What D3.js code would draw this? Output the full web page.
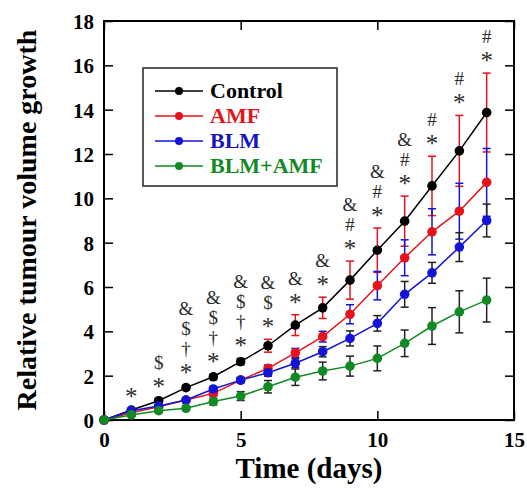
<!DOCTYPE html>
<html>
<head>
<meta charset="utf-8">
<script src="https://cdn.jsdelivr.net/npm/d3@7.9.0/dist/d3.min.js"></script>
<style>
  html, body { margin: 0; padding: 0; background: #fff; }
  svg { display: block; font-family: "Liberation Serif", "Times New Roman", serif; }
  .sym { opacity: 0.99; }
</style>
</head>
<body>
<svg id="chart" width="527" height="493"></svg>
<script>
const days = d3.range(0, 15);
const seriesNames = ['Control', 'AMF', 'BLM', 'BLM+AMF'];
const control = [0, 0.45, 0.87, 1.46, 1.95, 2.63, 3.35, 4.28, 5.06, 6.31, 7.66, 8.97, 10.56, 12.14, 13.87];
const controlErr = [0, 0.05, 0.08, 0.1, 0.12, 0.15, 0.29, 0.47, 0.48, 0.86, 1.0, 1.13, 1.34, 1.6, 1.78];
const amf = [0, 0.33, 0.6, 0.9, 1.2, 1.8, 2.33, 3.03, 3.76, 4.77, 6.06, 7.32, 8.49, 9.42, 10.72];
const amfErr = [0, 0.05, 0.08, 0.1, 0.12, 0.12, 0.15, 0.2, 0.24, 0.43, 0.64, 0.81, 1.04, 1.26, 1.53];
const blm = [0, 0.42, 0.63, 0.9, 1.4, 1.8, 2.13, 2.56, 3.08, 3.68, 4.36, 5.67, 6.64, 7.8, 9.0];
const blmErr = [0, 0.05, 0.05, 0.08, 0.1, 0.1, 0.15, 0.2, 0.23, 0.34, 0.35, 0.58, 0.47, 0.65, 0.74];
const combo = [0, 0.23, 0.42, 0.53, 0.83, 1.08, 1.5, 1.93, 2.21, 2.43, 2.78, 3.46, 4.24, 4.88, 5.41];
const comboErr = [0, 0.05, 0.08, 0.1, 0.15, 0.2, 0.28, 0.37, 0.4, 0.45, 0.56, 0.6, 0.83, 0.95, 0.99];
// significance marks above the Control points, listed bottom to top
const sigMarks = [[], ['*'], ['*', '$'], ['*', '†', '$', '&'], ['*', '†', '$', '&'], ['*', '†', '$', '&'],
  ['*', '$', '&'], ['*', '&'], ['*', '&'], ['*', '#', '&'], ['*', '#', '&'], ['*', '#', '&'],
  ['*', '#'], ['*', '#'], ['*', '#']];
const xTicks = [0, 5, 10, 15];
const yTicks = [0, 2, 4, 6, 8, 10, 12, 14, 16, 18];

const colors = ['#000000', '#e5131b', '#1414d8', '#128a24'];
const textColors = ['#000000', '#e5131b', '#1414c0', '#128a24'];
const barColors = ['#e5131b', '#1414d8', '#222222', '#222222'];

const series = [control, amf, blm, combo].map((vals, i) => ({
  name: seriesNames[i],
  color: colors[i],
  bar: barColors[i],
  points: days.map((d, j) => ({ day: d, v: vals[j], e: [controlErr, amfErr, blmErr, comboErr][i][j] }))
}));

const svg = d3.select('#chart');
const L = 104, R = 514, T = 21, B = 420;
const x = d3.scaleLinear().domain([0, 15]).range([L, R]);
const y = d3.scaleLinear().domain([0, 18]).range([B, T]);

// axes, ticks inward
const tk = 9;
const gx = svg.append('g').attr('transform', `translate(0,${B})`)
  .call(d3.axisBottom(x).tickValues(xTicks).tickSizeInner(-tk).tickSizeOuter(0).tickPadding(12));
const gy = svg.append('g').attr('transform', `translate(${L},0)`)
  .call(d3.axisLeft(y).tickValues(yTicks).tickSizeInner(-tk).tickSizeOuter(0).tickPadding(10));
svg.append('g').attr('transform', `translate(0,${T})`)
  .call(d3.axisTop(x).tickValues(xTicks).tickSizeInner(-tk).tickSizeOuter(0).tickFormat(''));
svg.append('g').attr('transform', `translate(${R},0)`)
  .call(d3.axisRight(y).tickValues(yTicks).tickSizeInner(-tk).tickSizeOuter(0).tickFormat(''));
svg.selectAll('.domain').remove();
svg.selectAll('.tick line').attr('stroke', '#000').attr('stroke-width', 1.5);
svg.selectAll('.tick text').attr('font-family', '"Liberation Serif", serif')
  .attr('font-size', 21).attr('font-weight', 'bold').attr('fill', '#000');
gx.selectAll('.tick text').attr('dy', '0.71em');
gy.selectAll('.tick text').attr('dy', '0.35em');

svg.append('rect').attr('x', L).attr('y', T).attr('width', R - L).attr('height', B - T)
  .attr('fill', 'none').attr('stroke', '#000').attr('stroke-width', 2);

// axis titles
svg.append('text').attr('x', (L + R) / 2).attr('y', 478).attr('text-anchor', 'middle')
  .attr('font-size', 29).attr('font-weight', 'bold').text('Time (days)');
svg.append('text').attr('transform', 'translate(36,220) rotate(-90)').attr('text-anchor', 'middle')
  .attr('font-size', 28).attr('font-weight', 'bold').text('Relative tumour volume growth');

// series
const line = d3.line().x(d => x(d.day)).y(d => y(d.v));
const cap = 4;
series.forEach(s => {
  const g = svg.append('g');
  const eb = g.selectAll('.eb').data(s.points.filter(p => p.e > 0)).join('g')
    .attr('stroke', s.bar).attr('stroke-width', 1.5);
  eb.append('line').attr('x1', d => x(d.day)).attr('x2', d => x(d.day))
    .attr('y1', d => y(d.v - d.e)).attr('y2', d => y(d.v + d.e));
  eb.append('line').attr('x1', d => x(d.day) - cap).attr('x2', d => x(d.day) + cap)
    .attr('y1', d => y(d.v + d.e)).attr('y2', d => y(d.v + d.e));
  eb.append('line').attr('x1', d => x(d.day) - cap).attr('x2', d => x(d.day) + cap)
    .attr('y1', d => y(d.v - d.e)).attr('y2', d => y(d.v - d.e));
  g.append('path').datum(s.points).attr('d', line).attr('fill', 'none')
    .attr('stroke', s.color).attr('stroke-width', 1.5);
  g.selectAll('circle').data(s.points).join('circle')
    .attr('cx', d => x(d.day)).attr('cy', d => y(d.v)).attr('r', 4.8).attr('fill', s.color);
});

// significance symbols
const ctrl = series[0].points;
const symG = svg.append('g').attr('class', 'sym').attr('text-anchor', 'middle');
sigMarks.forEach((marks, i) => {
  const top = y(ctrl[i].v + ctrl[i].e);
  marks.forEach((m, k) => {
    const cy = top - 16 - k * 20;
    const isStar = m === '*';
    symG.append('text').attr('x', x(days[i]))
      .attr('y', isStar ? cy + 12 : cy + 6)
      .attr('font-size', isStar ? 25 : 19)
      .attr('fill', '#2a2a2a')
      .text(m);
  });
});

// legend
const lg = svg.append('g');
lg.append('rect').attr('x', 143).attr('y', 68).attr('width', 194).attr('height', 118)
  .attr('fill', '#fff').attr('stroke', '#222').attr('stroke-width', 1.5);
series.forEach((s, i) => {
  const ly = 91 + i * 25;
  lg.append('line').attr('x1', 155).attr('x2', 203).attr('y1', ly).attr('y2', ly)
    .attr('stroke', s.color).attr('stroke-width', 1.5);
  lg.append('circle').attr('cx', 179).attr('cy', ly).attr('r', 4).attr('fill', s.color);
  lg.append('text').attr('x', 210).attr('y', ly + 7).attr('font-size', 22)
    .attr('font-weight', 'bold').attr('fill', textColors[i]).text(s.name);
});
</script>
</body>
</html>
